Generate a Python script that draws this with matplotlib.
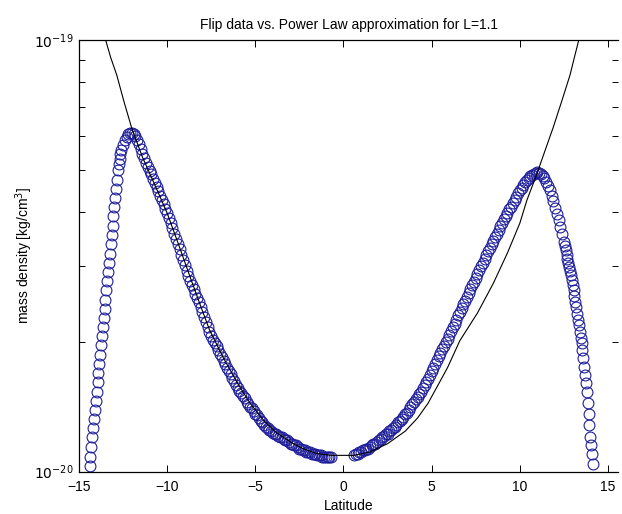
import matplotlib
matplotlib.use("Agg")
import matplotlib.pyplot as plt
import matplotlib.ticker as ticker

plt.rcParams['font.family'] = ['Liberation Sans Narrow', 'Liberation Sans', 'DejaVu Sans']
plt.rcParams['mathtext.fontset'] = 'custom'
plt.rcParams['mathtext.rm'] = 'Liberation Sans Narrow'
plt.rcParams['mathtext.default'] = 'rm'

# flip data, southern branch (latitude in deg, density in 1e-20 kg/cm^3)
lat_south = [-14.40, -14.35, -14.30, -14.25, -14.20, -14.15, -14.10, -14.05, -14.00, -13.95,
             -13.90, -13.85, -13.80, -13.75, -13.70, -13.65, -13.60, -13.55, -13.50, -13.45,
             -13.40, -13.35, -13.30, -13.25, -13.20, -13.15, -13.10, -13.05, -13.00, -12.95,
             -12.90, -12.85, -12.80, -12.75, -12.70, -12.65, -12.60, -12.50, -12.40, -12.30,
             -12.2, -12.1, -12.0, -11.9, -11.8, -11.7, -11.6, -11.5, -11.4, -11.3,
             -11.2, -11.1, -11.0, -10.9, -10.8, -10.7, -10.6, -10.5, -10.4, -10.3,
             -10.2, -10.1, -10.0, -9.9, -9.8, -9.7, -9.6, -9.5, -9.4, -9.3,
             -9.2, -9.1, -9.0, -8.9, -8.8, -8.7, -8.6, -8.5, -8.4, -8.3,
             -8.2, -8.1, -8.0, -7.9, -7.8, -7.7, -7.6, -7.5, -7.4, -7.3,
             -7.2, -7.1, -7.0, -6.9, -6.8, -6.7, -6.6, -6.5, -6.4, -6.3,
             -6.2, -6.1, -6.0, -5.9, -5.8, -5.7, -5.6, -5.5, -5.4, -5.3,
             -5.2, -5.1, -5.0, -4.9, -4.8, -4.7, -4.6, -4.5, -4.4, -4.3,
             -4.2, -4.1, -4.0, -3.9, -3.8, -3.7, -3.6, -3.5, -3.4, -3.3,
             -3.2, -3.1, -3.0, -2.9, -2.8, -2.7, -2.6, -2.5, -2.4, -2.3,
             -2.2, -2.1, -2.0, -1.9, -1.8, -1.7, -1.6, -1.5, -1.4, -1.3,
             -1.2, -1.1, -1.0, -0.9, -0.8, -0.7]
dens_south = [1.03, 1.08, 1.14, 1.20, 1.26, 1.32, 1.39, 1.46, 1.53, 1.61,
              1.69, 1.77, 1.86, 1.96, 2.06, 2.16, 2.27, 2.38, 2.50, 2.63,
              2.76, 2.90, 3.05, 3.20, 3.36, 3.53, 3.71, 3.90, 4.10, 4.30,
              4.52, 4.75, 4.99, 5.15, 5.30, 5.43, 5.55, 5.72, 5.85, 5.96,
              6.04, 6.09, 6.10, 6.05, 5.98, 5.87, 5.74, 5.60, 5.43, 5.32,
              5.20, 5.09, 4.98, 4.88, 4.77, 4.67, 4.57, 4.47, 4.36, 4.26,
              4.16, 4.06, 3.97, 3.86, 3.76, 3.66, 3.56, 3.46, 3.37, 3.27,
              3.18, 3.09, 3.01, 2.92, 2.84, 2.77, 2.71, 2.65, 2.58, 2.52,
              2.47, 2.40, 2.34, 2.28, 2.22, 2.16, 2.10, 2.06, 2.02, 1.99,
              1.95, 1.91, 1.87, 1.84, 1.80, 1.77, 1.74, 1.71, 1.68, 1.65,
              1.62, 1.59, 1.56, 1.54, 1.52, 1.50, 1.48, 1.45, 1.43, 1.41,
              1.40, 1.38, 1.36, 1.35, 1.33, 1.31, 1.30, 1.28, 1.27, 1.26,
              1.25, 1.24, 1.23, 1.22, 1.22, 1.21, 1.20, 1.20, 1.19, 1.18,
              1.18, 1.17, 1.16, 1.16, 1.15, 1.15, 1.14, 1.13, 1.13, 1.12,
              1.12, 1.11, 1.11, 1.11, 1.10, 1.10, 1.10, 1.09, 1.09, 1.09,
              1.08, 1.08, 1.08, 1.08, 1.08, 1.08]

# flip data, northern branch
lat_north = [0.6, 0.7, 0.8, 0.9, 1.0, 1.1, 1.2, 1.3, 1.4, 1.5,
             1.6, 1.7, 1.8, 1.9, 2.0, 2.1, 2.2, 2.3, 2.4, 2.5,
             2.6, 2.7, 2.8, 2.9, 3.0, 3.1, 3.2, 3.3, 3.4, 3.5,
             3.6, 3.7, 3.8, 3.9, 4.0, 4.1, 4.2, 4.3, 4.4, 4.5,
             4.6, 4.7, 4.8, 4.9, 5.0, 5.1, 5.2, 5.3, 5.4, 5.5,
             5.6, 5.7, 5.8, 5.9, 6.0, 6.1, 6.2, 6.3, 6.4, 6.5,
             6.6, 6.7, 6.8, 6.9, 7.0, 7.1, 7.2, 7.3, 7.4, 7.5,
             7.6, 7.7, 7.8, 7.9, 8.0, 8.1, 8.2, 8.3, 8.4, 8.5,
             8.6, 8.7, 8.8, 8.9, 9.0, 9.1, 9.2, 9.3, 9.4, 9.5,
             9.6, 9.7, 9.8, 9.9, 10.0, 10.1, 10.2, 10.3, 10.4, 10.5,
             10.6, 10.7, 10.8, 10.9, 11.0, 11.1, 11.2, 11.3, 11.4, 11.5,
             11.6, 11.7, 11.8, 11.9, 12.0, 12.1, 12.2, 12.3, 12.4, 12.5,
             12.55, 12.60, 12.65, 12.70, 12.75, 12.80, 12.85, 12.90, 12.95, 13.00,
             13.05, 13.10, 13.15, 13.20, 13.25, 13.30, 13.35, 13.40, 13.45,
             13.50, 13.55, 13.60, 13.65, 13.70, 13.75, 13.80, 13.85, 13.90, 13.95,
             14.00, 14.05, 14.10, 14.15]
dens_north = [1.09, 1.10, 1.10, 1.11, 1.11, 1.12, 1.12, 1.13, 1.13, 1.14,
              1.15, 1.16, 1.16, 1.17, 1.18, 1.19, 1.20, 1.21, 1.22, 1.22,
              1.24, 1.25, 1.26, 1.27, 1.28, 1.30, 1.31, 1.32, 1.34, 1.36,
              1.37, 1.39, 1.41, 1.43, 1.45, 1.47, 1.49, 1.51, 1.53, 1.56,
              1.59, 1.61, 1.64, 1.67, 1.71, 1.74, 1.77, 1.81, 1.85, 1.88,
              1.92, 1.95, 2.00, 2.03, 2.07, 2.12, 2.16, 2.20, 2.25, 2.30,
              2.34, 2.39, 2.44, 2.49, 2.54, 2.59, 2.65, 2.70, 2.75, 2.81,
              2.87, 2.93, 2.99, 3.05, 3.11, 3.17, 3.24, 3.30, 3.37, 3.43,
              3.49, 3.56, 3.63, 3.70, 3.77, 3.84, 3.91, 3.97, 4.05, 4.11,
              4.19, 4.26, 4.33, 4.42, 4.49, 4.55, 4.61, 4.68, 4.73, 4.79,
              4.83, 4.86, 4.90, 4.92, 4.94, 4.93, 4.90, 4.84, 4.78, 4.69,
              4.60, 4.48, 4.36, 4.23, 4.09, 3.95, 3.82, 3.69, 3.56, 3.41,
              3.33, 3.26, 3.18, 3.11, 3.04, 2.98, 2.92, 2.86, 2.78, 2.71,
              2.63, 2.55, 2.47, 2.40, 2.32, 2.25, 2.18, 2.11, 2.04,
              1.98, 1.91, 1.83, 1.75, 1.67, 1.60, 1.53, 1.44, 1.36, 1.28,
              1.20, 1.15, 1.10, 1.04]

# power law approximation
fit_lat = [-13.49, -13.2, -12.86, -12.45, -12.01, -11.4, -10.6, -10.0, -9.4, -8.8,
           -8.2, -7.6, -6.8, -6.0, -5.3, -4.5, -3.8, -3.0, -2.3, -1.5,
           -0.7, 0.6, 1.5, 2.5, 3.5, 4.2, 4.8, 5.9, 6.6, 7.6,
           8.5, 9.3, 10.0, 10.4, 10.9, 11.3, 11.9, 12.4, 12.85, 13.13, 13.36]
fit_dens = [10.0, 9.1, 8.3, 7.2, 6.25, 5.35, 4.52, 3.97, 3.40, 2.90,
            2.48, 2.13, 1.83, 1.60, 1.44, 1.31, 1.23, 1.17, 1.13, 1.10,
            1.09, 1.09, 1.11, 1.16, 1.24, 1.33, 1.44, 1.74, 2.01, 2.33,
            2.73, 3.21, 3.76, 4.25, 4.81, 5.35, 6.28, 7.26, 8.30, 9.23, 10.05]

scale = 1e-20

fig = plt.figure(figsize=(6.22, 5.14), dpi=100)
ax = fig.add_axes([79 / 622, 1 - 471.5 / 514, (618 - 79) / 622, (471.5 - 40) / 514])

lat = lat_south + lat_north
dens = [d * scale for d in dens_south + dens_north]
ax.plot(lat, dens, 'o', mfc='none', mec='#1f1f9c', ms=7.8, mew=0.8)
ax.plot(fit_lat, [d * scale for d in fit_dens], '-', color='black', lw=0.8)

ax.set_yscale('log')
ax.set_xlim(-15, 15.57)
ax.set_ylim(1e-20, 1e-19)
ax.set_xticks([-15, -10, -5, 0, 5, 10, 15])
ax.yaxis.set_major_locator(ticker.FixedLocator([1e-20, 1e-19]))
ax.yaxis.set_major_formatter(ticker.FixedFormatter([r'$10^{-20}$', r'$10^{-19}$']))
ax.yaxis.set_minor_locator(ticker.FixedLocator([k * 1e-20 for k in range(2, 10)]))
ax.yaxis.set_minor_formatter(ticker.NullFormatter())

ax.tick_params(which='both', direction='in', top=True, right=True, labelsize=10, width=0.7)
ax.tick_params(which='major', length=5, pad=4)
ax.tick_params(axis='x', which='major', pad=6)
ax.tick_params(which='minor', length=4)
for side in ['left', 'bottom', 'top']:
    ax.spines[side].set_linewidth(0.9)
ax.spines['right'].set_visible(False)

ax.set_title('Flip data vs. Power Law approximation for L=1.1', fontsize=10, pad=8)
ax.set_xlabel('Latitude', fontsize=10, labelpad=4)
ax.set_ylabel('mass density [kg/cm$^3$]', fontsize=10, labelpad=-1)

fig.savefig('out.png', dpi=100)
